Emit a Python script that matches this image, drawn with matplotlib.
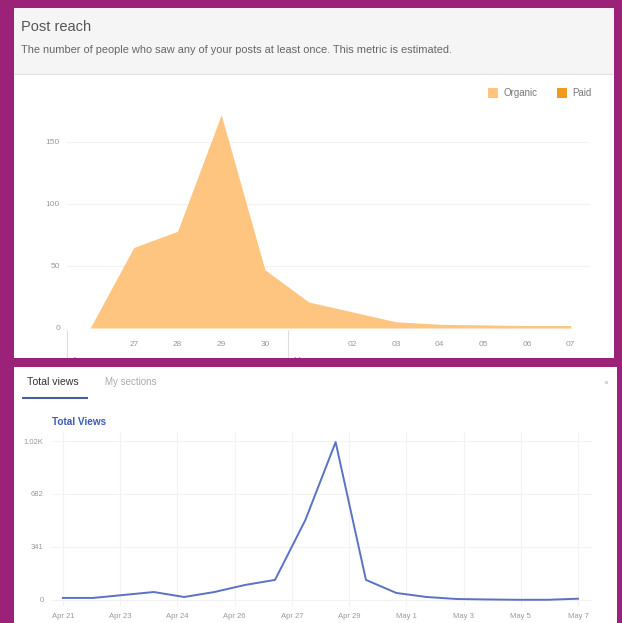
import matplotlib
matplotlib.use("Agg")
import matplotlib.pyplot as plt
from matplotlib.patches import Rectangle
from matplotlib.lines import Line2D
import numpy as np

plt.rcParams['font.family'] = ['Liberation Sans', 'DejaVu Sans']

# ---- data ----
reach_days = ["26", "27", "28", "29", "30", "01", "02", "03", "04", "05", "06", "07"]
reach_organic = [0, 65, 78, 172, 47, 21, 13, 5, 3, 2.5, 2, 2]
reach_yticks = [0, 50, 100, 150]
reach_ytick_labels = ["0", "50", "100", "150"]

views = [13, 13, 32, 51, 19, 51, 96, 129, 514, 1016, 129, 45, 19, 6, 3, 1, 1, 8]
views_xtick_labels = ["Apr 21", "Apr 23", "Apr 24", "Apr 26", "Apr 27",
                      "Apr 29", "May 1", "May 3", "May 5", "May 7"]
views_yticks = [0, 341, 682, 1023]
views_ytick_labels = ["0", "341", "682", "1.02K"]

W, H = 622, 623
PURPLE = '#9b2179'
ORANGE = '#fdc580'
PAID = '#f39a1c'
BLUE = '#5a72c2'

fig = plt.figure(figsize=(W / 100, H / 100), dpi=100)
fig.patch.set_facecolor(PURPLE)


def rect(l, t, r, b):
    return [l / W, 1 - b / H, (r - l) / W, (b - t) / H]


def fx(x):
    return x / W


def fy(y):
    return 1 - y / H


def prect(l, t, r, b, color, z=1):
    fig.patches.append(Rectangle((fx(l), fy(b)), (r - l) / W, (b - t) / H,
                                 transform=fig.transFigure, facecolor=color,
                                 edgecolor='none', linewidth=0, zorder=z))


def fline(xs, ys, color, lw, z):
    fig.add_artist(Line2D([fx(v) for v in xs], [fy(v) for v in ys], color=color, lw=lw,
                          transform=fig.transFigure, zorder=z, solid_capstyle='butt'))


# panels (behind axes)
prect(14, 8, 614, 359, 'white', z=-3)
prect(14, 8, 614, 74, '#f5f5f5', z=-2.5)
fline([14, 613], [74, 74], '#e2e2e2', 0.8, -2)
prect(14, 367, 617, 623, 'white', z=-3)

# header texts
fig.text(fx(21), fy(27), "Post reach", fontsize=10.5, color='#555555', va='center', ha='left')
fig.text(fx(21), fy(50), "The number of people who saw any of your posts at least once. This metric is estimated.",
         fontsize=7.9, color='#666666', va='center', ha='left')

# ---- top chart ----
ax1 = fig.add_axes(rect(67, 80, 590, 328))
x1 = np.arange(len(reach_organic))
ax1.fill_between(x1, 0, reach_organic, color=ORANGE, linewidth=0, zorder=2)
ax1.set_xlim(-0.53, 11.44)
ax1.set_ylim(0, 200)
ax1.set_yticks(reach_yticks)
ax1.set_yticklabels(reach_ytick_labels)
ax1.grid(axis='y', color='#f1f1f1', lw=0.8, zorder=0)
sel = [1, 2, 3, 4, 6, 7, 8, 9, 10, 11]
ax1.set_xticks(x1[sel])
ax1.set_xticklabels([reach_days[i] for i in sel])
ax1.tick_params(axis='both', length=0, labelsize=6, colors='#999999')
ax1.tick_params(axis='x', pad=9)
ax1.tick_params(axis='y', pad=5)
for s in ax1.spines.values():
    s.set_visible(False)
ax1.set_facecolor('none')
ax1.set_axisbelow(True)

# month separators and labels
for xs in (67, 288):
    fline([xs, xs], [330, 358], '#dddddd', 0.8, -1)
fig.text(fx(72), fy(361), "Apr", fontsize=6, color='#999999', ha='left', va='center')
fig.text(fx(293), fy(361), "May", fontsize=6, color='#999999', ha='left', va='center')

# legend
prect(488, 88, 498, 98, ORANGE, z=2)
fig.text(fx(504), fy(93), "Organic", fontsize=7, color='#777777', va='center')
prect(557, 88, 567, 98, PAID, z=2)
fig.text(fx(572), fy(93), "Paid", fontsize=7, color='#777777', va='center')

# purple band covering cut-off labels
prect(0, 358, W, 367, PURPLE, z=5)

# ---- bottom tabs ----
fig.text(fx(27), fy(382), "Total views", fontsize=7.6, color='#333333', va='center')
fig.text(fx(105), fy(382), "My sections", fontsize=7.0, color='#aaaaaa', va='center')
fline([22, 88], [398, 398], '#4a5f9a', 1.5, 2)
fig.text(fx(603), fy(383), "×", fontsize=6, color='#aaaaaa', va='center')
fig.text(fx(52), fy(422), "Total Views", fontsize=7.2, color='#3b5cb8', va='center',
         fontweight='bold')

# ---- bottom chart ----
ax2 = fig.add_axes(rect(52, 432, 592, 606))
x2 = np.arange(len(views))
ax2.plot(x2, views, color=BLUE, lw=1.4, zorder=3)
ax2.set_xlim(-0.36, 17.46)
ax2.set_ylim(-39, 1081)
ax2.set_yticks(views_yticks)
ax2.set_yticklabels(views_ytick_labels)
xt = np.linspace(0, len(views) - 1, len(views_xtick_labels))
ax2.set_xticks(xt)
ax2.set_xticklabels(views_xtick_labels)
ax2.grid(True, color='#f2f2f2', lw=0.8, zorder=0)
ax2.tick_params(axis='both', length=0, labelsize=5.5, colors='#999999')
ax2.tick_params(axis='x', pad=5)
ax2.tick_params(axis='y', pad=6)
for s in ax2.spines.values():
    s.set_visible(False)
ax2.set_facecolor('none')
ax2.set_axisbelow(True)

fig.savefig("out.png", dpi=100, facecolor=fig.get_facecolor())
